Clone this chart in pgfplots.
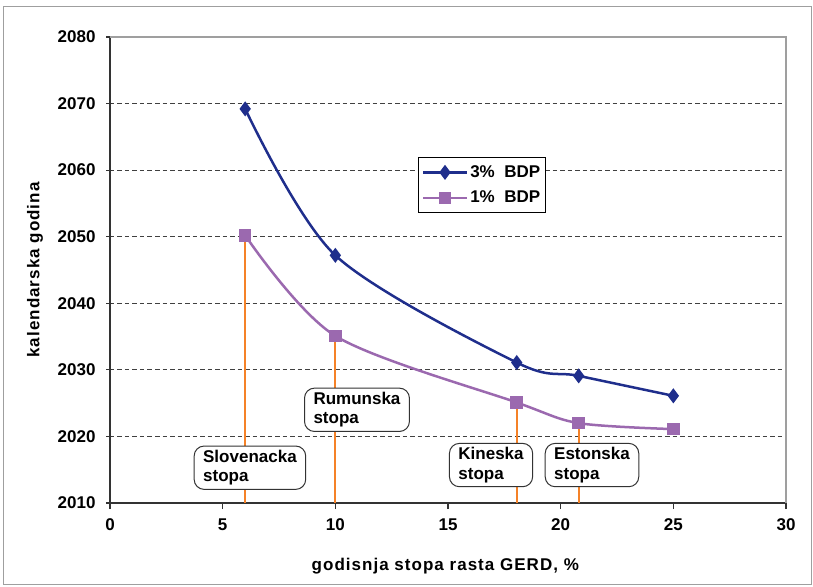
\documentclass[border=0pt]{standalone}
\usepackage{pgfplots}
\pgfplotsset{compat=1.18}
\usepackage{fontspec}
\setmainfont{Liberation Sans}
\definecolor{navy}{RGB}{31,46,140}
\definecolor{lilac}{RGB}{155,105,175}
\definecolor{orng}{RGB}{245,130,40}
\newcommand\f{\fontsize{17}{19.5}\selectfont\bfseries}
\newcommand\fl{\fontsize{17}{19.5}\selectfont\bfseries\addfontfeature{LetterSpace=6}}
\begin{document}
\begin{tikzpicture}[box/.style={draw=black!80, line width=1pt, fill=white, rounded corners=10pt, align=left, font=\f, inner xsep=9pt, inner ysep=4pt}]
\path[use as bounding box] (-110pt,-83pt) rectangle (703pt,503pt);
\draw[gray!75, line width=1pt] (-106pt,-81pt) rectangle (701pt,496pt);
\begin{axis}[
  scale only axis, width=676pt, height=466pt,
  xmin=0, xmax=30, ymin=2010, ymax=2080,
  xtick={0,5,...,30}, ytick={2010,2020,...,2080},
  axis x line*=bottom, axis y line*=left,
  axis line style={line width=1.1pt, black!80, -},
  tick align=outside, major tick length=6pt,
  tick style={line width=1.1pt, black!80},
  ytick style={xshift=2.5pt},
  ymajorgrids,
  major grid style={dash pattern=on 4.5pt off 3pt, line width=1pt, black!75},
  ticklabel style={font=\f},
  /pgf/number format/assume math mode=true,
  /pgf/number format/1000 sep={},
  yticklabel style={xshift=-5pt},
  xticklabel style={yshift=-6pt},
  xlabel={godisnja stopa rasta GERD, \%},
  ylabel={kalendarska godina},
  every axis x label/.style={at={(axis description cs:0.496,-0.135)}, anchor=center, font=\fl},
  every axis y label/.style={at={(axis description cs:-0.111,0.5)}, anchor=center, rotate=90, font=\fl},
  clip=false,
  legend style={at={(axis description cs:0.456,0.742)}, anchor=north west, draw=black, line width=1pt, fill=white, font=\f, inner xsep=3pt, inner ysep=6pt, row sep=8pt},
  legend cell align=left,
  legend image code/.code={\draw[mark repeat=2,mark phase=2,#1] plot coordinates {(0pt,0pt) (22pt,0pt) (44pt,0pt)};},
]
\draw[gray!75, line width=1.3pt] (rel axis cs:0,1) -- (rel axis cs:1,1) -- (rel axis cs:1,0);
\addplot[orng, line width=2pt, forget plot] coordinates {(6,2010) (6,2050.2)};
\addplot[orng, line width=2pt, forget plot] coordinates {(10,2010) (10,2035.1)};
\addplot[orng, line width=2pt, forget plot] coordinates {(18.05,2010) (18.05,2025.1)};
\addplot[orng, line width=2pt, forget plot] coordinates {(20.8,2010) (20.8,2022)};
\addplot[navy, line width=2.5pt, smooth, mark=diamond*, mark size=5.5pt] coordinates {(6,2069.2) (10,2047.2) (18.05,2031.1) (20.8,2029.1) (25,2026.1)};
\addlegendentry{3\%\ \ BDP}
\addplot[lilac, line width=2.5pt, smooth, mark=square*, mark size=5pt] coordinates {(6,2050.2) (10,2035.1) (18.05,2025.1) (20.8,2022) (25,2021.1)};
\addlegendentry{1\%\ \ BDP}
\node[box] at (axis cs:6.21,2015.3) {Slovenacka\\stopa};
\node[box] at (axis cs:10.96,2024) {Rumunska\\stopa};
\node[box] at (axis cs:16.91,2015.7) {Kineska\\stopa};
\node[box] at (axis cs:21.39,2015.7) {Estonska\\stopa};
\end{axis}
\end{tikzpicture}
\end{document}
